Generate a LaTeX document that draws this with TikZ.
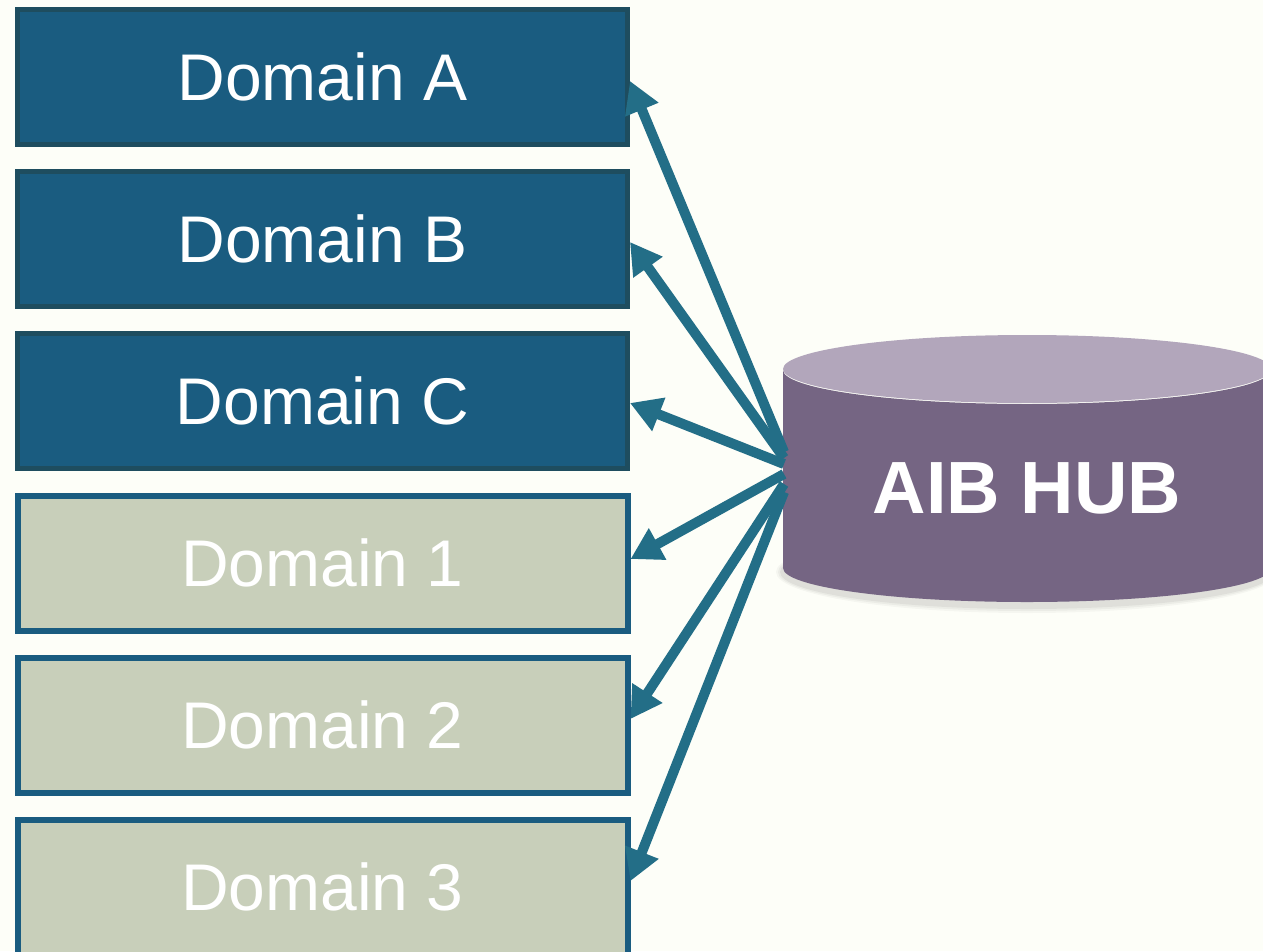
\documentclass[tikz,border=0pt]{standalone}
\usepackage{fontspec}
\setmainfont{Liberation Sans}
\usetikzlibrary{arrows.meta,calc}
\definecolor{bg}{HTML}{FDFEF8}
\definecolor{darkfill}{HTML}{1A5C80}
\definecolor{darkedge}{HTML}{1E4D5F}
\definecolor{lightfill}{HTML}{C8CFBA}
\definecolor{lightedge}{HTML}{1A5C80}
\definecolor{arrowc}{HTML}{236E87}
\definecolor{hubbody}{HTML}{756583}
\definecolor{hubtop}{HTML}{B2A6BB}
\tikzset{
  domainbox/.style={rectangle, minimum width=610pt, minimum height=135pt, line width=5pt,
    text=white, font=\fontsize{66}{70}\selectfont, text height=47pt, text depth=0pt, inner sep=0pt},
  darkbox/.style={domainbox, fill=darkfill, draw=darkedge},
  lightbox/.style={domainbox, fill=lightfill, draw=lightedge, line width=6pt},
  hubtext/.style={text=white, font=\fontsize{74}{78}\selectfont\bfseries, text height=53pt, text depth=0pt, inner sep=0pt},
  link/.style={draw=arrowc, line width=10pt, -{Triangle[length=31pt,width=34pt]}}
}
\begin{document}
\begin{tikzpicture}[x=1pt,y=-1pt]
\fill[bg] (0,0) rectangle (1263,951);
\useasboundingbox (0,0) rectangle (1263,951);

% domain boxes
\node[darkbox]  (A)  at (322.5,77)  {Domain A};
\node[darkbox]  (B)  at (322.5,239) {Domain B};
\node[darkbox]  (C)  at (322.5,401) {Domain C};
\node[lightbox] (D1) at (322.5,563) {Domain 1};
\node[lightbox] (D2) at (322.5,725) {Domain 2};
\node[lightbox] (D3) at (322.5,887) {Domain 3};

% hub cylinder shadow
\foreach \o/\k in {7/0.03,5/0.04,3/0.05}{
  \fill[black,opacity=\k] (1027,572) ellipse [x radius={244+\o}, y radius={34+\o}];
}
% hub cylinder body
\fill[hubbody] (783,370) -- (783,568)
  arc[start angle=180, end angle=0, x radius=244, y radius=34]
  -- (1271,370)
  arc[start angle=0, end angle=180, x radius=244, y radius=34] -- cycle;
\fill[hubtop] (1027,369) ellipse [x radius=244, y radius=34];
\node[hubtext] (hub) at (1027,486.5) {AIB HUB};

% start points on the hub edge
\coordinate (sA)  at (784,452);
\coordinate (sB)  at (784,458);
\coordinate (sC)  at (784,464);
\coordinate (s1)  at (784,474);
\coordinate (s2)  at (784,484);
\coordinate (s3)  at (784,492);

\draw[link] (sA) -- ($(A.east)+(0,4)$);
\draw[link] (sB) -- ($(B.east)+(0,3)$);
\draw[link] (sC) -- ($(C.east)+(0,2)$);
\draw[link] (s1) -- ($(D1.east)+(0,-4)$);
\draw[link] (s2) -- ($(D2.east)+(0,-6)$);
\draw[link] (s3) -- ($(D3.east)+(0,-6)$);
\end{tikzpicture}
\end{document}
